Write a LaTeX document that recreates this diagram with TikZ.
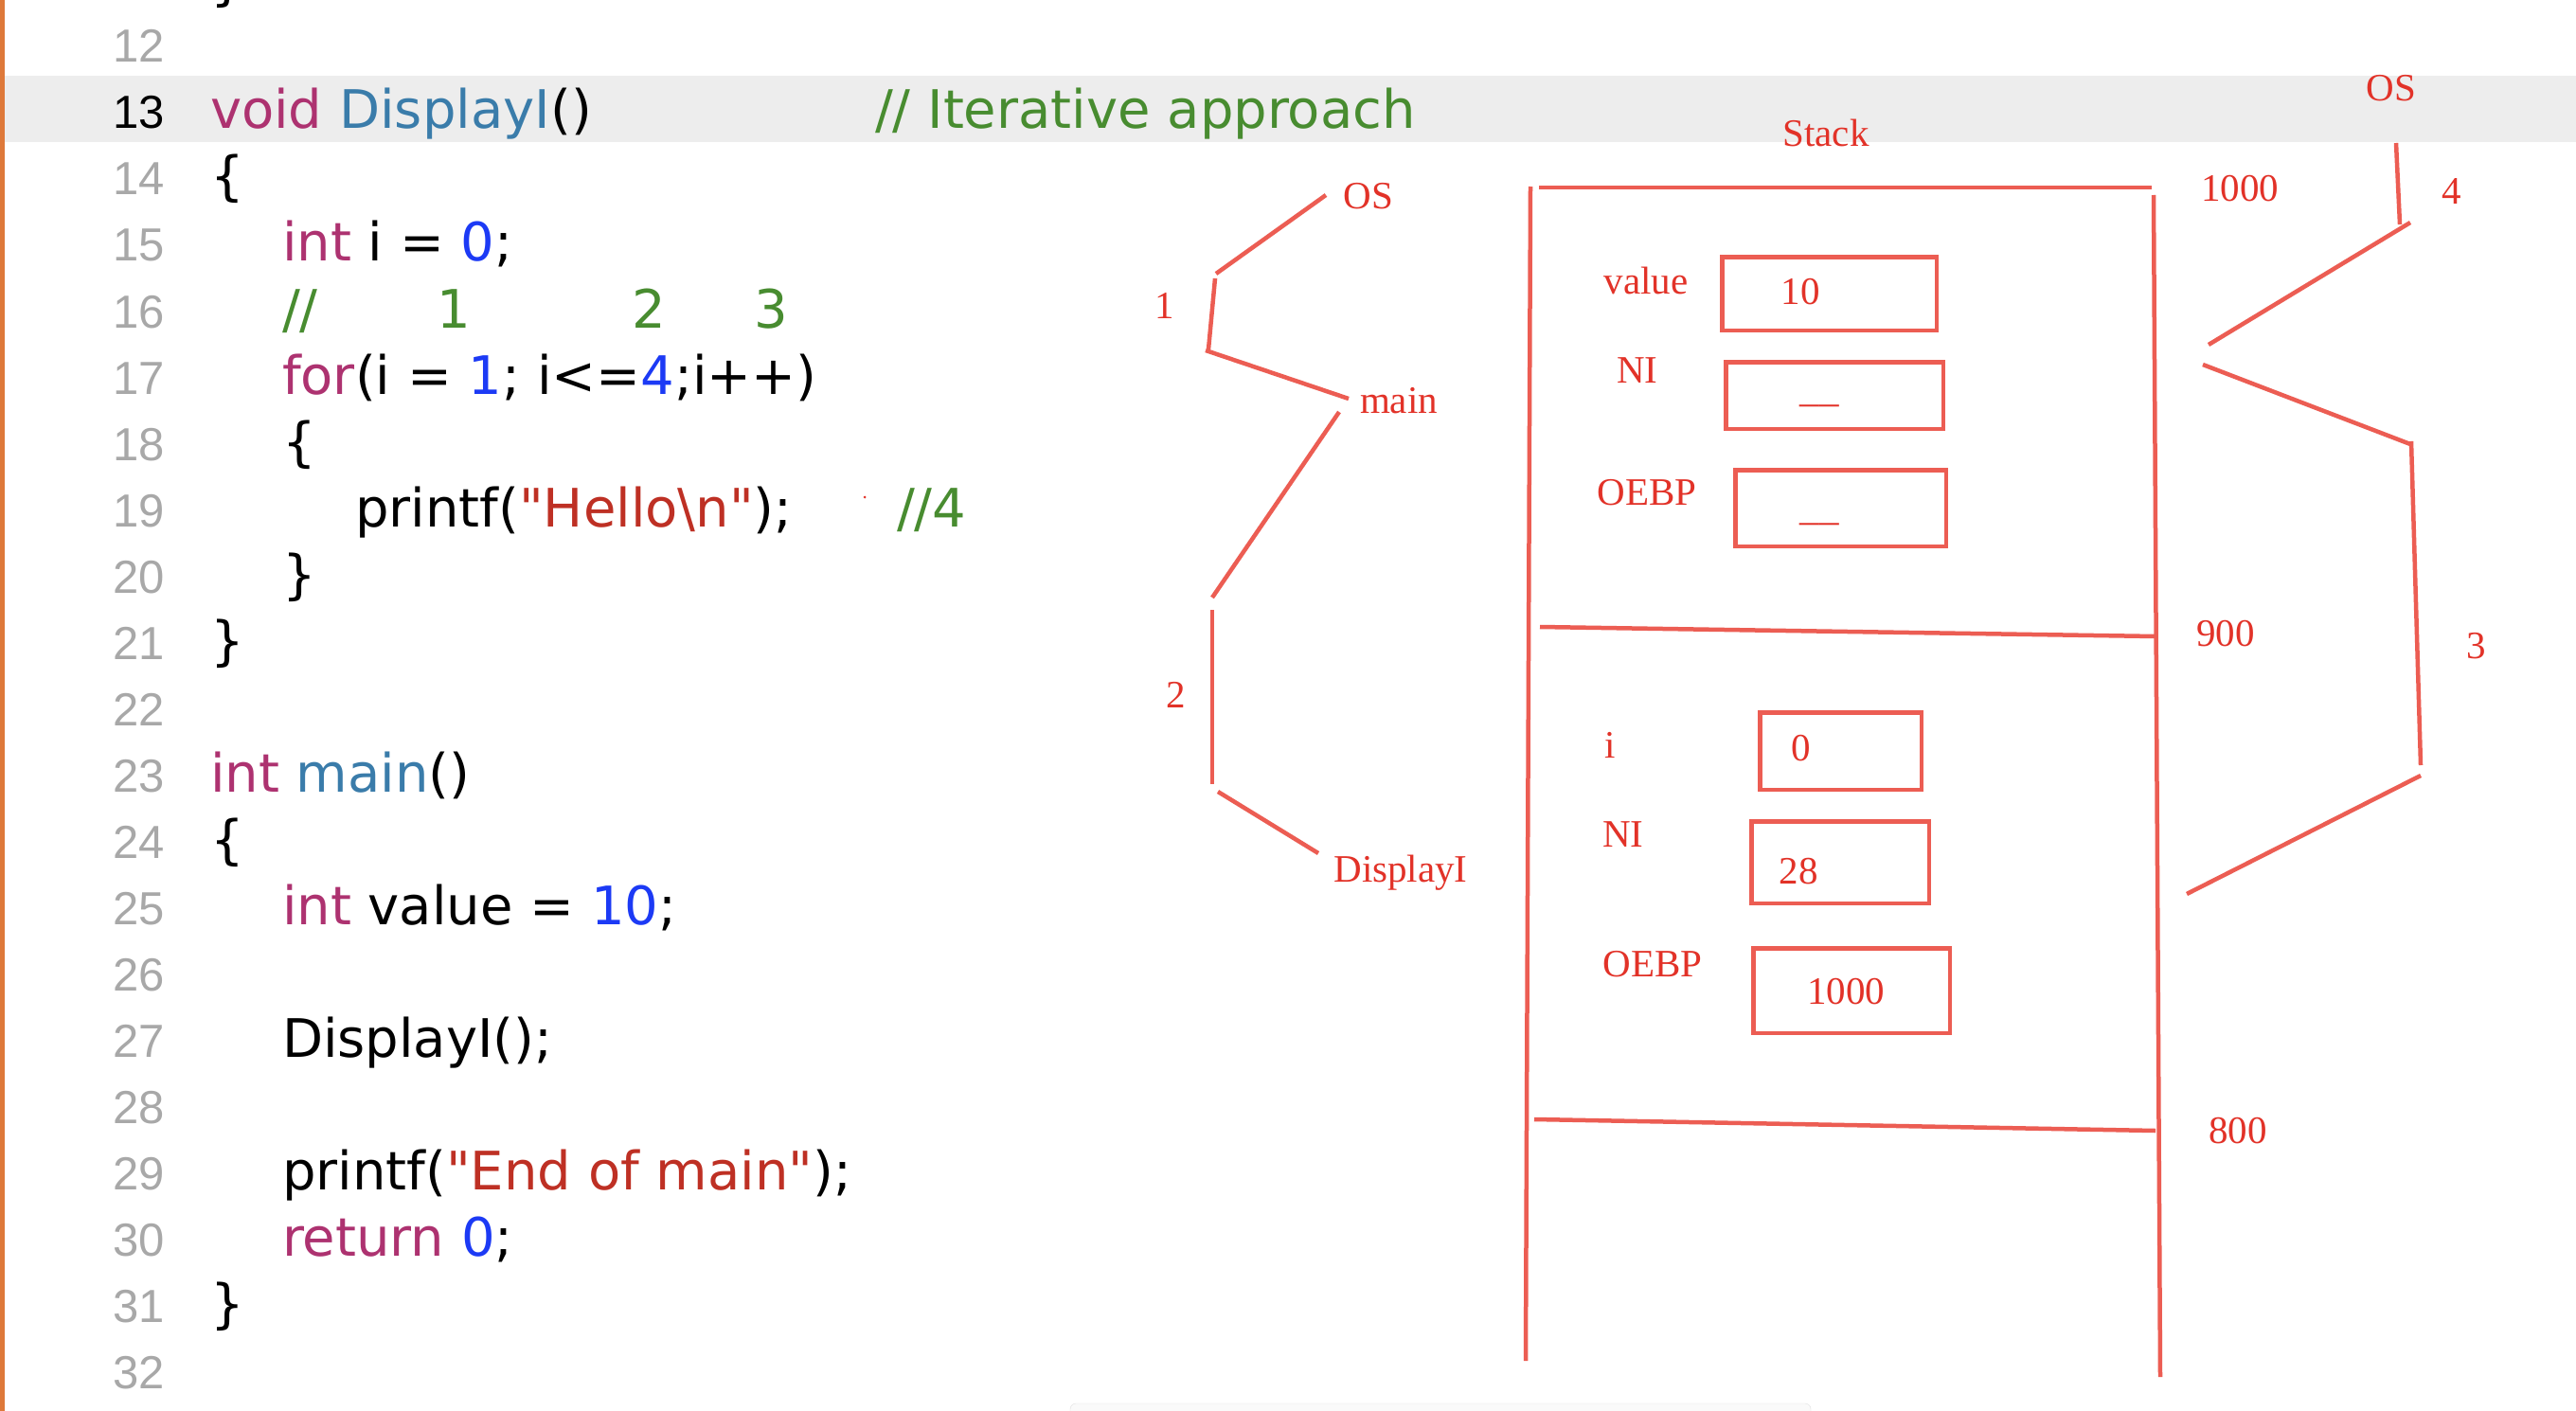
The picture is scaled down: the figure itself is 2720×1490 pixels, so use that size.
\documentclass[tikz,border=0pt]{standalone}
\usepackage{fontspec}
\setmainfont{Liberation Serif}
\newfontfamily\codefont{DejaVu Sans}[Ligatures=TeXOff]
\newfontfamily\numfont{Liberation Sans}
\definecolor{kwc}{RGB}{173,50,112}
\definecolor{fnc}{RGB}{58,124,170}
\definecolor{nmc}{RGB}{28,58,245}
\definecolor{stc}{RGB}{190,48,36}
\definecolor{cmc}{RGB}{72,140,48}
\definecolor{lnc}{RGB}{168,168,168}
\definecolor{bandc}{RGB}{237,237,237}
\definecolor{barc}{RGB}{222,121,58}
\definecolor{penc}{RGB}{236,93,83}
\definecolor{inkc}{RGB}{226,50,40}
\newcommand{\kw}[1]{\textcolor{kwc}{#1}}
\newcommand{\fn}[1]{\textcolor{fnc}{#1}}
\newcommand{\nm}[1]{\textcolor{nmc}{#1}}
\newcommand{\st}[1]{\textcolor{stc}{#1}}
\newcommand{\cm}[1]{\textcolor{cmc}{#1}}
\begin{document}
\begin{tikzpicture}[x=1pt,y=-1pt,
  code/.style={anchor=base west,inner sep=0pt,outer sep=0pt,font=\codefont\fontsize{56}{62}\selectfont},
  lnum/.style={anchor=base east,inner sep=0pt,outer sep=0pt,font=\numfont\fontsize{49}{56}\selectfont,text=lnc},
  lbl/.style={anchor=base,inner sep=0pt,outer sep=0pt,text=inkc,font=\fontsize{41}{48}\selectfont},
  pen/.style={draw=penc,line width=4.5pt},
  cell/.style={draw=penc,line width=4.5pt,rectangle,inner sep=0pt,outer sep=0pt}]
\useasboundingbox (0,0) rectangle (2720,1490);
\clip (0,0) rectangle (2720,1490);
\fill[white] (0,0) rectangle (2720,1490);
% editor chrome
\fill[bandc] (4,80) rectangle (2720,150);
\fill[barc] (0,0) rectangle (4.5,1490);
\draw[black!12,fill=black!2,rounded corners=6pt] (1130,1482) rectangle (1912,1530);
% line numbers
\foreach \n in {12,14,15,...,32}{
  \node[lnum] (ln\n) at (174,{136+(\n-13)*70}) {\n};
}
\node[lnum,text=black] (ln13) at (174,136) {13};
% code
\node[code] (c11) at (222,0) {\}};
\node[code] (c13) at (222,136) {\kw{void} \fn{DisplayI}()};
\node[code] (c13c) at (924,136) {\cm{// Iterative approach}};
\node[code] (c14) at (222,206) {\{};
\node[code] (c15) at (298,276) {\kw{int} i = \nm{0};};
\node[code] (c16) at (298,346) {\cm{//}};
\node[code,anchor=base] (c16a) at (479,346) {\cm{1}};
\node[code,anchor=base] (c16b) at (685,346) {\cm{2}};
\node[code,anchor=base] (c16c) at (814,346) {\cm{3}};
\node[code] (c17) at (298,416) {\kw{for}(i = \nm{1}; i<=\nm{4};i++)};
\node[code] (c18) at (298,486) {\{};
\node[code] (c19) at (375,556) {printf(\st{"Hello\textbackslash n"});};
\node[code] (c19c) at (947,556) {\cm{//4}};
\fill[inkc] (913,525) circle (1.5);
\node[code] (c20) at (298,626) {\}};
\node[code] (c21) at (222,696) {\}};
\node[code] (c23) at (222,836) {\kw{int} \fn{main}()};
\node[code] (c24) at (222,906) {\{};
\node[code] (c25) at (298,976) {\kw{int} value = \nm{10};};
\node[code] (c27) at (298,1116) {DisplayI();};
\node[code] (c29) at (298,1256) {printf(\st{"End of main"});};
\node[code] (c30) at (298,1326) {\kw{return} \nm{0};};
\node[code] (c31) at (222,1396) {\}};
% left call tree
\node[lbl] (osL) at (1445,221) {OS};
\node[lbl] (mainL) at (1477,436) {main};
\node[lbl] (dispL) at (1479,931) {DisplayI};
\node[lbl] (oneL) at (1230,336) {1};
\node[lbl] (twoL) at (1242,747) {2};
\coordinate (t1a) at (1400,206); \coordinate (t1b) at (1284,289);
\coordinate (t2a) at (1283,294); \coordinate (t2b) at (1276,369);
\coordinate (t3a) at (1273,370); \coordinate (t3b) at (1424,421);
\coordinate (t4a) at (1414,435); \coordinate (t4b) at (1280,631);
\coordinate (t5a) at (1280,644); \coordinate (t5b) at (1280,828);
\coordinate (t6a) at (1286,836); \coordinate (t6b) at (1392,901);
\draw[pen] (t1a) -- (t1b);
\draw[pen] (t2a) -- (t2b);
\draw[pen] (t3a) -- (t3b);
\draw[pen] (t4a) -- (t4b);
\draw[pen] (t5a) -- (t5b);
\draw[pen] (t6a) -- (t6b);
% stack frame
\node[lbl] (stackL) at (1928,155) {Stack};
\coordinate (fTa) at (1625,198); \coordinate (fTb) at (2272,198);
\coordinate (fLa) at (1616,197); \coordinate (fLb) at (1611,1437);
\coordinate (fRa) at (2274,206); \coordinate (fRb) at (2281,1454);
\coordinate (d1a) at (1626,662); \coordinate (d1b) at (2276,672);
\coordinate (d2a) at (1620,1182); \coordinate (d2b) at (2276,1194);
\draw[pen] (fTa) -- (fTb);
\draw[pen] (fLa) -- (fLb);
\draw[pen] (fRa) -- (fRb);
\draw[pen] (d1a) -- (d1b);
\draw[pen] (d2a) -- (d2b);
% main frame cells
\node[cell,minimum width=226.5pt,minimum height=77.5pt] (vbox) at (1931.5,310) {};
\node[cell,minimum width=229.5pt,minimum height=70.5pt] (nibox) at (1937,417.5) {};
\node[cell,minimum width=222.5pt,minimum height=80.5pt] (obox) at (1943.5,536.5) {};
\node[lbl] (valueL) at (1738,310) {value};
\node[lbl] (tenL) at (1901,321) {10};
\node[lbl] (niL) at (1729,404) {NI};
\node[lbl] (niV) at (1921,424) {\_\_};
\node[lbl] (oebpL) at (1739,533) {OEBP};
\node[lbl] (oebpV) at (1921,549) {\_\_};
% DisplayI frame cells
\node[cell,minimum width=170.5pt,minimum height=81.5pt] (ibox) at (1943.5,793) {};
\node[cell,minimum width=187.5pt,minimum height=86.5pt] (nibox2) at (1943,910.5) {};
\node[cell,minimum width=207.5pt,minimum height=89.5pt] (obox2) at (1955,1046) {};
\node[lbl] (iL) at (1700,800) {i};
\node[lbl] (zeroL) at (1902,803) {0};
\node[lbl] (ni2L) at (1714,894) {NI};
\node[lbl] (ni2V) at (1899,933) {28};
\node[lbl] (oebp2L) at (1745,1031) {OEBP};
\node[lbl] (oebp2V) at (1949,1060) {1000};
% addresses and right path
\node[lbl] (osR) at (2525,107) {OS};
\node[lbl] (a1000) at (2365,213) {1000};
\node[lbl] (fourL) at (2589,215) {4};
\node[lbl] (a900) at (2350,682) {900};
\node[lbl] (threeL) at (2615,695) {3};
\node[lbl] (a800) at (2363,1207) {800};
\coordinate (r1a) at (2530,151); \coordinate (r1b) at (2534,237);
\coordinate (r2a) at (2545,235); \coordinate (r2b) at (2332,364);
\coordinate (r3a) at (2326,385); \coordinate (r3b) at (2545,469);
\coordinate (r4a) at (2546,466); \coordinate (r4b) at (2556,808);
\coordinate (r5a) at (2556,819); \coordinate (r5b) at (2309,944);
\draw[pen] (r1a) -- (r1b);
\draw[pen] (r2a) -- (r2b);
\draw[pen] (r3a) -- (r3b);
\draw[pen] (r4a) -- (r4b);
\draw[pen] (r5a) -- (r5b);
\end{tikzpicture}
\end{document}
